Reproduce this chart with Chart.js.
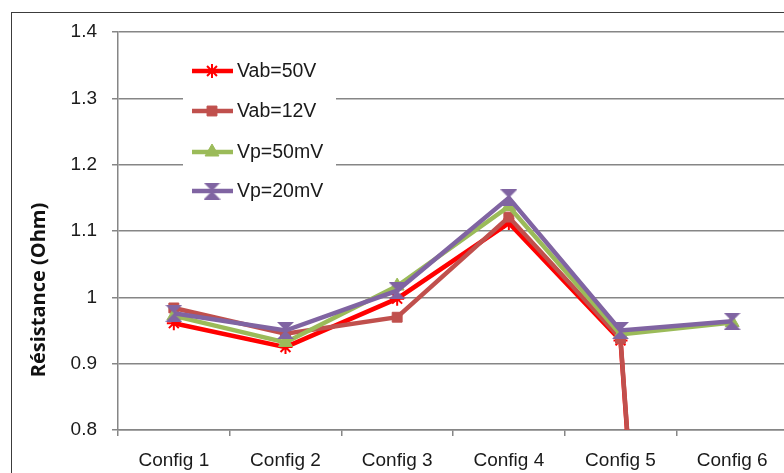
<!DOCTYPE html>
<html>
<head>
<meta charset="utf-8">
<script src="https://cdn.jsdelivr.net/npm/chart.js@4.4.1/dist/chart.umd.min.js"></script>
<style>
  html, body { margin: 0; padding: 0; background: #fff; overflow: hidden; width: 784px; height: 473px; }
  #frame { position: absolute; left: 11px; top: 12px; width: 900px; height: 600px; border: 1.5px solid #3c3c3c; }
  #wrap { position: absolute; left: 0; top: 0; width: 800px; height: 473px; }
</style>
</head>
<body>
<div id="frame"></div>
<div id="wrap"><canvas id="myChart" width="800" height="473"></canvas></div>
<script>
// donnees
const categories = ["Config 1", "Config 2", "Config 3", "Config 4", "Config 5", "Config 6"];
const vab50 = [0.961, 0.925, 0.998, 1.112, 0.935, -1.4];
const vab12 = [0.984, 0.945, 0.970, 1.121, 0.938, -1.4];
const vp50 = [0.972, 0.932, 1.017, 1.137, 0.944, 0.962];
const vp20 = [0.976, 0.950, 1.010, 1.150, 0.950, 0.964];
const seriesNames = ["Vab=50V", "Vab=12V", "Vp=50mV", "Vp=20mV"];
const yTicks = { min: 0.8, max: 1.4, step: 0.1 };
const yTitle = "Résistance (Ohm)";

const font = "'Liberation Sans', Arial, sans-serif";

// marqueur violet en sablier
function hourglass(color, size) {
  const c = document.createElement("canvas");
  c.width = size;
  c.height = size;
  const g = c.getContext("2d");
  g.fillStyle = color;
  g.beginPath();
  g.moveTo(0, 0);
  g.lineTo(size, 0);
  g.lineTo(size / 2, size / 2);
  g.lineTo(size, size);
  g.lineTo(0, size);
  g.lineTo(size / 2, size / 2);
  g.closePath();
  g.fill();
  return c;
}
const purpleMarker = hourglass("#8064A2", 17);

function makeSet(label, data, color, style, radius, order, extra) {
  return Object.assign({
    label: label,
    data: data,
    borderColor: color,
    backgroundColor: color,
    pointBackgroundColor: color,
    pointBorderColor: color,
    borderWidth: 4.5,
    pointStyle: style,
    pointRadius: radius,
    pointHoverRadius: radius,
    pointBorderWidth: 1,
    tension: 0,
    order: order,
  }, extra || {});
}

const datasets = [
  makeSet(seriesNames[0], vab50, "#FF0000", "star", 7, 4, { pointBorderWidth: 2 }),
  makeSet(seriesNames[1], vab12, "#C0504D", "rect", 7, 3),
  makeSet(seriesNames[2], vp50, "#9BBB59", "triangle", 8, 2),
  makeSet(seriesNames[3], vp20, "#8064A2", purpleMarker, 8, 1),
];

// legende dessinee dans la zone du graphique + titre de l'axe
const excelBits = {
  id: "excelBits",
  afterDraw(chart) {
    const ctx = chart.ctx;
    ctx.save();
    // titre vertical
    ctx.translate(39, 290);
    ctx.rotate(-Math.PI / 2);
    ctx.fillStyle = "#111";
    ctx.font = "bold 20px 'Open Sans', sans-serif";
    ctx.textAlign = "center";
    ctx.textBaseline = "middle";
    ctx.fillText(yTitle, 0, 0);
    ctx.restore();

    ctx.save();
    ctx.fillStyle = "#fff";
    ctx.fillRect(183, 45, 153, 165);
    const rows = [71, 111, 152, 191];
    chart.data.datasets.forEach((ds, i) => {
      const y = rows[i];
      ctx.strokeStyle = ds.borderColor;
      ctx.lineWidth = 4.5;
      ctx.beginPath();
      ctx.moveTo(192, y);
      ctx.lineTo(233, y);
      ctx.stroke();
      ctx.fillStyle = ds.pointBackgroundColor;
      ctx.lineWidth = ds.pointBorderWidth;
      Chart.helpers.drawPoint(ctx, {
        pointStyle: ds.pointStyle,
        radius: ds.pointRadius,
        rotation: 0,
        borderWidth: ds.pointBorderWidth,
      }, 212, y);
      ctx.fillStyle = "#1a1a1a";
      ctx.font = "19.5px " + font;
      ctx.textAlign = "left";
      ctx.textBaseline = "middle";
      ctx.fillText(ds.label, 237, y + 1);
    });
    ctx.restore();
  },
};

const ctx = document.getElementById("myChart").getContext("2d");
new Chart(ctx, {
  type: "line",
  data: { labels: categories, datasets: datasets },
  options: {
    responsive: false,
    animation: false,
    layout: { padding: { left: 0, right: 12, top: 32, bottom: 0 } },
    plugins: { legend: { display: false }, tooltip: { enabled: false } },
    scales: {
      x: {
        offset: true,
        grid: { offset: true, drawOnChartArea: false, drawTicks: true, tickLength: 6, color: "#868686", lineWidth: 1.5 },
        border: { color: "#868686", width: 1.5 },
        ticks: { color: "#1a1a1a", font: { family: font, size: 19 }, padding: 13, maxRotation: 0, autoSkip: false },
        afterFit(scale) { scale.height = 43; },
      },
      y: {
        min: yTicks.min,
        max: yTicks.max,
        grid: { color: "#868686", lineWidth: 1.5, drawTicks: true, tickLength: 6 },
        border: { color: "#868686", width: 1.5 },
        ticks: {
          stepSize: yTicks.step,
          color: "#1a1a1a",
          font: { family: font, size: 19 },
          padding: 15,
          callback: (v) => (Math.round(v * 10) / 10).toString(),
        },
        afterFit(scale) { scale.width = 118; },
      },
    },
  },
  plugins: [excelBits],
});
</script>
</body>
</html>
